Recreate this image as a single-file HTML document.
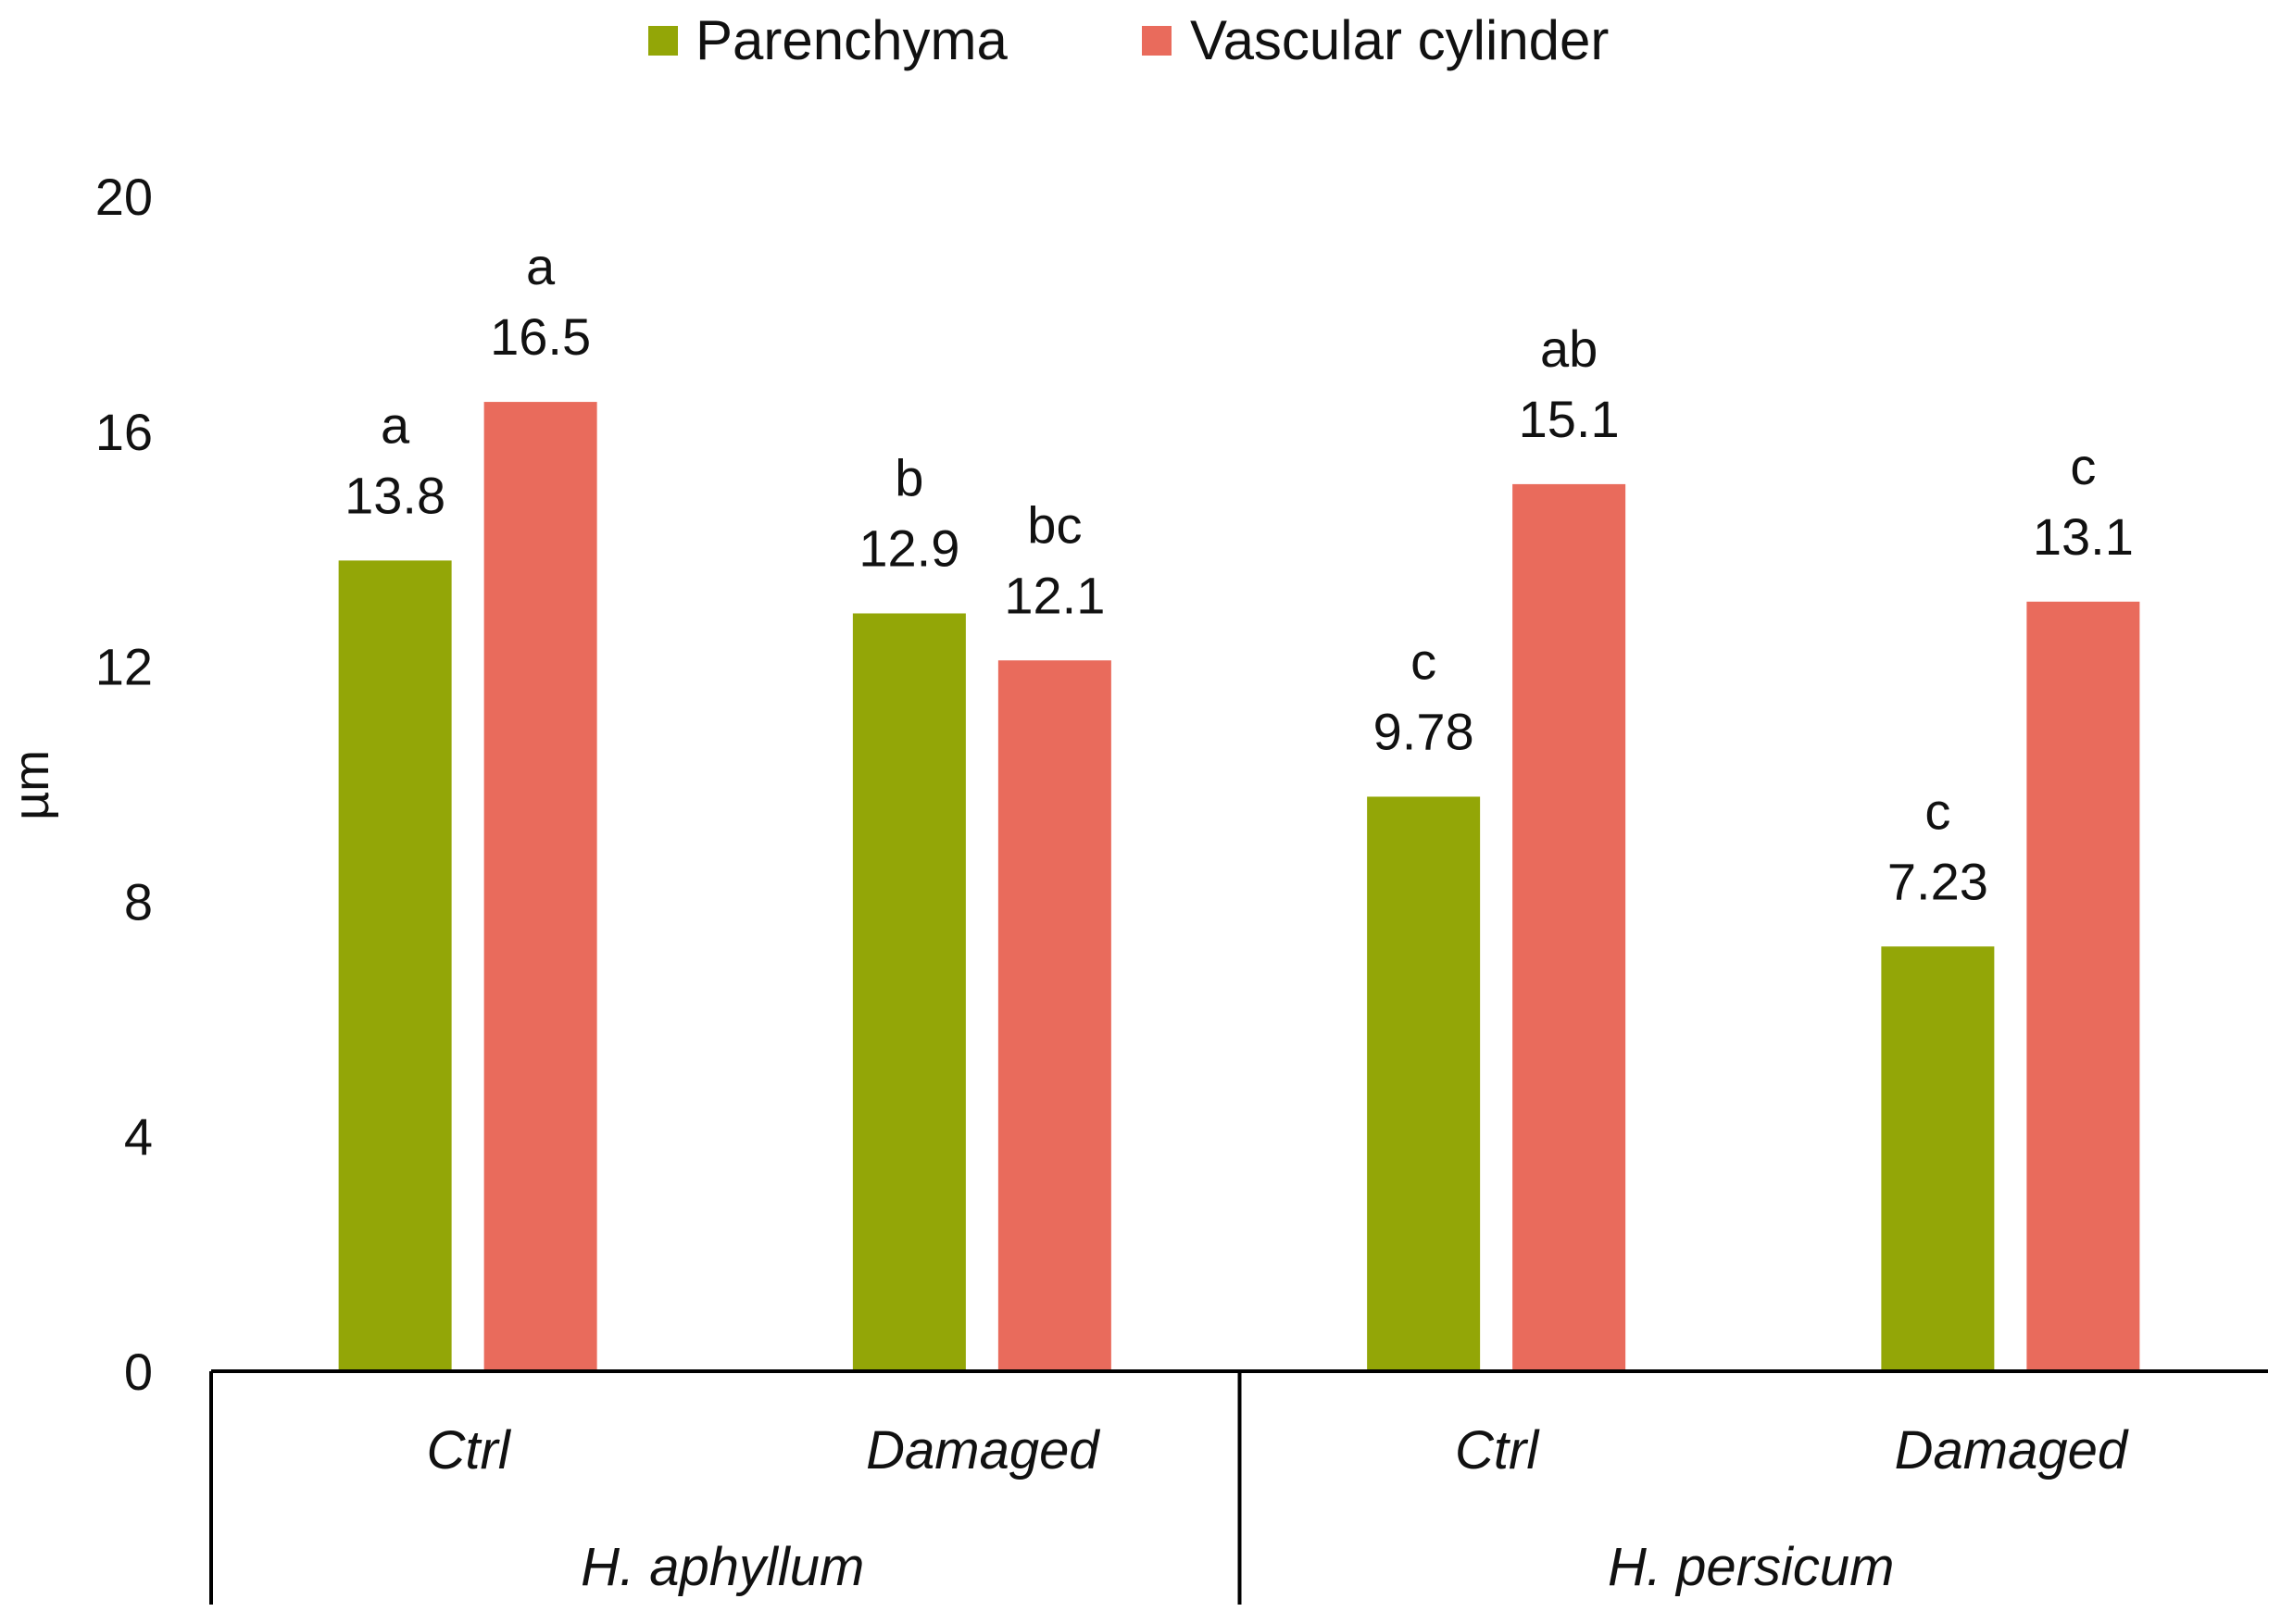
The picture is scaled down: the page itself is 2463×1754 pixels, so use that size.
<!DOCTYPE html>
<html><head><meta charset="utf-8"><style>
html,body{margin:0;padding:0;background:#fff}
svg{display:block}
text{font-family:"Liberation Sans",sans-serif;fill:#111}
</style></head><body>
<svg id="chart" width="2463" height="1754" viewBox="0 0 2463 1754" xmlns="http://www.w3.org/2000/svg">
<g id="legend">
<rect x="700" y="28" width="32" height="32" fill="#93a607"/>
<text x="751" y="64" font-size="60">Parenchyma</text>
<rect x="1233" y="28" width="32" height="32" fill="#e96b5c"/>
<text x="1285" y="64" font-size="60">Vascular cylinder</text>
</g>
<text transform="translate(52,848) rotate(-90)" text-anchor="middle" font-size="54">µm</text>
<g id="yticks"></g>
<g id="bars"></g>
<g id="xaxis"></g>
</svg>
<script>
const categories = ["Ctrl","Damaged","Ctrl","Damaged"];
const groups = ["H. aphyllum","H. persicum"];
const parenchyma = [13.8,12.9,9.78,7.23];
const vascular = [16.5,12.1,15.1,13.1];
const parenchymaLabels = ["13.8","12.9","9.78","7.23"];
const vascularLabels = ["16.5","12.1","15.1","13.1"];
const parenchymaLetters = ["a","b","c","c"];
const vascularLetters = ["a","bc","ab","c"];
const yTicks = [0,4,8,12,16,20];

const NS="http://www.w3.org/2000/svg";
const X0=228, X1=2449, Y0=1481, Y20=212;
const catW=(X1-X0)/categories.length;
function y(v){return Y0-(v/20)*(Y0-Y20);}
function cx(i){return X0+catW*(i+0.5);}
function mk(tag,attrs,parent){const e=document.createElementNS(NS,tag);for(const k in attrs)e.setAttribute(k,attrs[k]);parent.appendChild(e);return e;}

const yg=document.getElementById('yticks');
yTicks.forEach(t=>{
  const e=mk('text',{x:165,y:y(t)+20,'text-anchor':'end','font-size':56},yg);
  
  
  e.textContent=t;
});

const bg=document.getElementById('bars');
const BW=122;
function bar(i,val,lbl,let,left,color,name){
  const top=y(val);
  const r=mk('rect',{x:left,y:top,width:BW,height:Y0-top,fill:color},bg);
  
  
  const t=mk('text',{x:left+BW/2,y:top-51,'text-anchor':'middle','font-size':56},bg);
  
  
  t.textContent=lbl;
  const l=mk('text',{x:left+BW/2,y:top-127,'text-anchor':'middle','font-size':56},bg);
  
  
  l.textContent=let;
}
categories.forEach((c,i)=>{
  bar(i,parenchyma[i],parenchymaLabels[i],parenchymaLetters[i],cx(i)-140,'#93a607','parenchyma');
  bar(i,vascular[i],vascularLabels[i],vascularLetters[i],cx(i)+17,'#e96b5c','vascular');
});

const xg=document.getElementById('xaxis');
let ln=mk('line',{x1:X0,y1:Y0,x2:X1,y2:Y0,stroke:'#000','stroke-width':4},xg);


[0,2].forEach(k=>{
  const xx=X0+catW*k;
  const v=mk('line',{x1:xx,y1:Y0,x2:xx,y2:1733,stroke:'#000','stroke-width':4},xg);
  
  
});
categories.forEach((c,i)=>{
  const t=mk('text',{x:cx(i),y:1586,'text-anchor':'middle','font-size':58,'font-style':'italic'},xg);
  
  
  t.textContent=c;
});
groups.forEach((g,k)=>{
  const t=mk('text',{x:X0+catW*(2*k+1)-3,y:1712,'text-anchor':'middle','font-size':58,'font-style':'italic'},xg);
  
  
  t.textContent=g;
});
</script>
</body></html>
